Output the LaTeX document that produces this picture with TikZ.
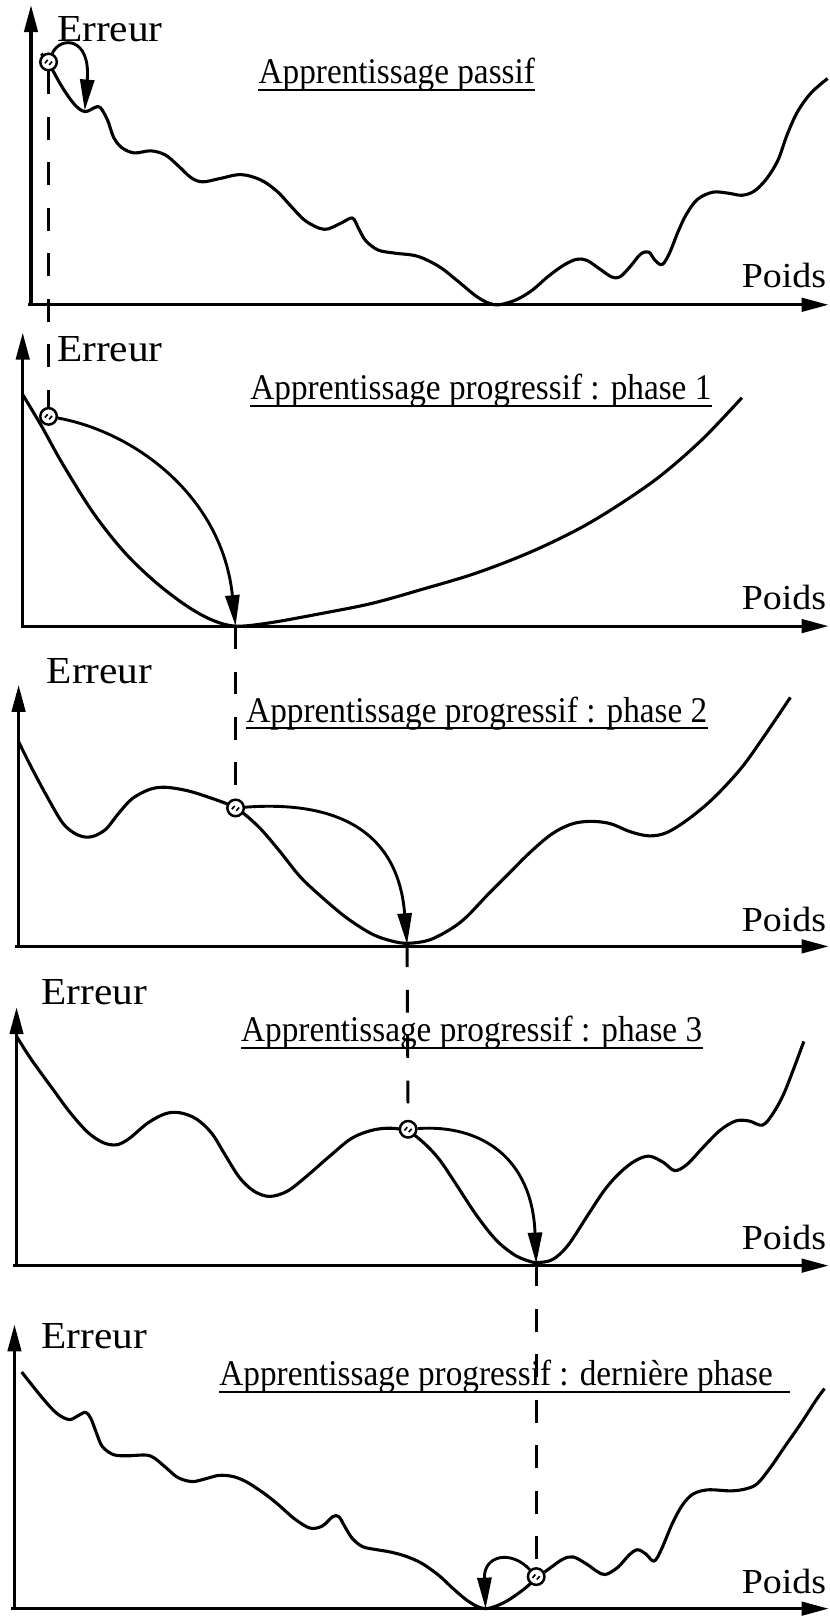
\documentclass[tikz,border=0pt]{standalone}
\usepackage{fontspec}
\setmainfont{Liberation Serif}
\usepackage{graphicx}
\usetikzlibrary{arrows.meta}
\begin{document}
\begin{tikzpicture}[x=0.5pt,y=-0.5pt,
  axis/.style={line width=1.5pt,-{Triangle[length=13pt,width=6.5pt]}},
  curve/.style={line width=1.5pt,line join=round},
  garrow/.style={line width=1.4pt,-{Triangle[length=15pt,width=6.8pt]}},
  dashline/.style={line width=1.4pt,dash pattern=on 11pt off 11pt},
  ball/.style={circle,draw,line width=1.2pt,fill=white,minimum size=8pt,inner sep=0pt,
    path picture={
      \draw[line width=0.8pt] ([shift={(-1.8pt,-0.6pt)}]path picture bounding box.center) -- ++(1.4pt,1.6pt);
      \draw[line width=0.8pt] ([shift={(0.3pt,-1.4pt)}]path picture bounding box.center) -- ++(1.4pt,1.6pt);}},
  ylab/.style={inner sep=0pt,anchor=base west,font=\fontsize{18.5}{20}\selectfont},
  xlab/.style={inner sep=0pt,anchor=base east,font=\fontsize{17}{18}\selectfont},
  ttl/.style={inner sep=0pt,anchor=base west,font=\fontsize{17.5}{19}\selectfont},
  uline/.style={line width=0.9pt}
]
\useasboundingbox (0,0) rectangle (803,1568);

% ---------- Panel 1 ----------
\coordinate (o1) at (30,295); \coordinate (s1) at (27,295);
\coordinate (y1) at (30,5); \coordinate (x1) at (802,295);
\draw[axis] (o1) -- (y1);
\draw[axis] (s1) -- (x1);
\node[ylab] (e1) at (55,40) {\scalebox{1.08}[1]{Erreur}};
\node[xlab] (p1) at (800,278) {\scalebox{1.08}[1]{Poids}};
\node[ttl] (t1) at (250,81) {\scalebox{0.92}[1]{Apprentissage passif}};
\draw[uline] ([yshift=-3pt]t1.base west) -- ([yshift=-3pt]t1.base east);
\draw[curve] plot[smooth,tension=0.55] coordinates {(40,52) (47,61) (60,84) (72,101) (82,108) (92,104) (97,104) (104,116) (110,133) (118,143) (130,148) (146,146) (160,150) (172,160) (185,172) (196,176) (212,173) (233,169) (252,174) (268,185) (282,200) (296,214) (314,222) (330,216) (341,211) (347,221) (354,233) (366,242) (382,245) (404,248) (425,258) (443,272) (460,286) (472,293) (483,295) (500,290) (515,281) (530,268) (545,257) (558,251) (568,252) (580,260) (592,268) (600,268) (610,258) (620,246) (628,244) (634,252) (641,256) (648,245) (656,225) (664,208) (675,193) (690,186) (705,187) (718,189) (730,185) (742,173) (753,155) (762,130) (772,108) (785,90) (801,76)};
\coordinate (m1) at (82,107);
\node[ball] (b1) at (47,60) {};

% ---------- Panel 2 ----------
\coordinate (o2) at (22,606); \coordinate (s2) at (20,606);
\coordinate (y2) at (22,322); \coordinate (x2) at (802,606);
\draw[axis] (o2) -- (y2);
\draw[axis] (s2) -- (x2);
\node[ylab] (e2) at (55,350) {\scalebox{1.08}[1]{Erreur}};
\node[xlab] (p2) at (800,590) {\scalebox{1.08}[1]{Poids}};
\node[ttl] (t2) at (242,387) {\scalebox{0.92}[1]{Apprentissage progressif : phase 1}};
\draw[uline] ([yshift=-3pt]t2.base west) -- ([yshift=-3pt]t2.base east);
\draw[curve] plot[smooth,tension=0.55] coordinates {(22,382) (40,412) (60,448) (90,496) (120,534) (150,563) (180,586) (205,600) (228,606) (260,603) (310,594) (360,584) (410,570) (460,555) (512,535) (560,512) (600,488) (640,460) (680,425) (718,385)};
\coordinate (m2) at (228,606);
\node[ball] (b2) at (47,403) {};

% ---------- Panel 3 ----------
\coordinate (o3) at (18,916); \coordinate (s3) at (15,916);
\coordinate (y3) at (18,663); \coordinate (x3) at (802,916);
\draw[axis] (o3) -- (y3);
\draw[axis] (s3) -- (x3);
\node[ylab] (e3) at (45,662) {\scalebox{1.08}[1]{Erreur}};
\node[xlab] (p3) at (800,902) {\scalebox{1.08}[1]{Poids}};
\node[ttl] (t3) at (238,699) {\scalebox{0.92}[1]{Apprentissage progressif : phase 2}};
\draw[uline] ([yshift=-3pt]t3.base west) -- ([yshift=-3pt]t3.base east);
\draw[curve] plot[smooth,tension=0.55] coordinates {(18,718) (30,742) (45,770) (61,797) (75,808) (88,810) (102,803) (115,787) (128,773) (145,764) (160,762) (180,765) (200,771) (228,782) (250,800) (270,823) (290,848) (310,867) (335,888) (360,904) (380,911) (395,913) (415,910) (435,900) (451,888) (472,866) (492,846) (512,826) (533,808) (552,798) (570,795) (590,797) (610,805) (628,809) (645,806) (666,793) (690,773) (717,744) (740,712) (765,675)};
\coordinate (m3) at (394,914);
\node[ball] (b3) at (228,782) {};

% ---------- Panel 4 ----------
\coordinate (o4) at (16,1225); \coordinate (s4) at (13,1225);
\coordinate (y4) at (16,975); \coordinate (x4) at (802,1225);
\draw[axis] (o4) -- (y4);
\draw[axis] (s4) -- (x4);
\node[ylab] (e4) at (40,972) {\scalebox{1.08}[1]{Erreur}};
\node[xlab] (p4) at (800,1209) {\scalebox{1.08}[1]{Poids}};
\node[ttl] (t4) at (233,1008) {\scalebox{0.92}[1]{Apprentissage progressif : phase 3}};
\draw[uline] ([yshift=-3pt]t4.base west) -- ([yshift=-3pt]t4.base east);
\draw[curve] plot[smooth,tension=0.55] coordinates {(16,1003) (30,1025) (51,1054) (68,1077) (85,1096) (100,1106) (113,1108) (125,1102) (143,1087) (160,1078) (174,1077) (190,1083) (205,1097) (218,1118) (232,1140) (246,1153) (261,1158) (278,1153) (295,1140) (318,1120) (340,1102) (360,1094) (378,1092) (395,1095) (410,1106) (425,1122) (440,1144) (461,1176) (480,1200) (497,1214) (510,1220) (520,1222) (535,1219) (550,1205) (569,1176) (585,1152) (599,1136) (614,1124) (628,1119) (642,1125) (653,1133) (665,1127) (681,1110) (697,1094) (712,1085) (725,1085) (738,1089) (748,1078) (758,1060) (768,1035) (778,1008)};
\coordinate (m4) at (519,1223);
\node[ball] (b4) at (395,1093) {};

% ---------- Panel 5 ----------
\coordinate (o5) at (14,1557); \coordinate (s5) at (11,1557);
\coordinate (y5) at (14,1282); \coordinate (x5) at (802,1557);
\draw[axis] (o5) -- (y5);
\draw[axis] (s5) -- (x5);
\node[ylab] (e5) at (40,1305) {\scalebox{1.08}[1]{Erreur}};
\node[xlab] (p5) at (800,1542) {\scalebox{1.08}[1]{Poids}};
\node[ttl] (t5) at (212,1341) {\scalebox{0.92}[1]{Apprentissage progressif : dernière phase}};
\coordinate (u5) at (765,1341);
\draw[uline] ([yshift=-3pt]t5.base west) -- ([yshift=-3pt]u5);
\draw[curve] plot[smooth,tension=0.55] coordinates {(21,1328) (41,1353) (55,1368) (67,1374) (76,1370) (83,1367) (88,1373) (93,1386) (99,1400) (110,1408) (124,1409) (145,1409) (160,1420) (172,1430) (186,1434) (200,1431) (212,1428) (225,1429) (238,1434) (255,1445) (269,1456) (285,1470) (300,1479) (312,1477) (322,1468) (328,1468) (334,1478) (341,1489) (351,1497) (365,1500) (377,1502) (392,1506) (408,1513) (425,1525) (439,1538) (455,1551) (470,1557) (488,1551) (506,1539) (520,1527) (532,1518) (545,1509) (555,1507) (568,1514) (578,1521) (586,1524) (598,1517) (609,1505) (617,1500) (625,1504) (633,1511) (640,1500) (651,1474) (661,1456) (671,1446) (685,1442) (708,1443) (722,1441) (733,1436) (746,1420) (759,1401) (775,1378) (790,1355) (798,1344)};
\coordinate (m5) at (470,1557);
\node[ball] (b5) at (519,1526) {};

% ---------- descent arrows ----------
\draw[garrow] (b1) .. controls (58,35) and (88,35) .. (m1);
\draw[garrow] (b2) .. controls (130,418) and (215,480) .. (m2);
\draw[garrow] (b3) .. controls (320,775) and (385,800) .. (m3);
\draw[garrow] (b4) .. controls (465,1088) and (515,1120) .. (m4);
\draw[garrow] (b5) .. controls (495,1500) and (468,1505) .. (m5);

% ---------- dashed links ----------
\draw[dashline] (b1) -- (b2);
\draw[dashline] (m2) -- (b3);
\draw[dashline] (m3) -- (b4);
\draw[dashline] (m4) -- (b5);
\end{tikzpicture}
\end{document}
